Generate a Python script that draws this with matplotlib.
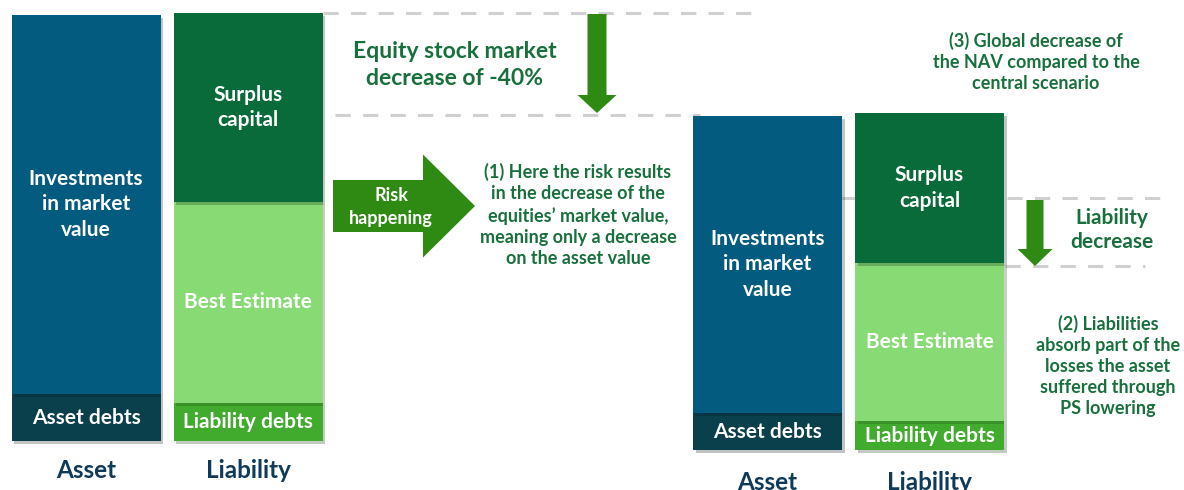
import matplotlib.pyplot as plt
from matplotlib import patheffects as pe

plt.rcParams['font.family'] = ['Lato', 'DejaVu Sans']

# balance sheet segments (central scenario, then stressed scenario)
scenarios = ['Central', 'Stressed']
base = [49, 40]
asset_debts = [47, 37]
investments = [379, 297]
liability_debts = [38, 29]
best_estimate = [201, 158]
surplus_capital = [189, 150]

# layout
asset_x = [86, 767.5]
liab_x = [248, 929.5]
bar_w = 149
label_y = [20, 8]

c_inv = '#045b80'
c_adebt = '#0a3f4c'
c_surplus = '#086b39'
c_be = '#88db74'
c_ldebt = '#40ab2c'
c_arrow = '#2e8a12'
c_text = '#18703c'
c_navy = '#0f3a5a'
c_dash = '#d0d0d0'

fig = plt.figure(figsize=(11.84, 4.9), dpi=100)
ax = fig.add_axes([0, 0, 1, 1])
ax.set_xlim(0, 1184)
ax.set_ylim(0, 490)
ax.axis('off')

shadow = [pe.SimplePatchShadow(offset=(2, -2), alpha=0.25), pe.Normal()]


def dashed(x0, x1, y):
    ax.plot([x0, x1], [y, y], color=c_dash, lw=2.2, dashes=(5, 4), zorder=1,
            solid_capstyle='butt')


# dashed reference lines (drawn under the bars)
dashed(323, 762, 477)
dashed(335, 700, 375)
dashed(842, 1160, 292)
dashed(1005, 1145, 224)

for i in range(len(scenarios)):
    b = base[i]
    segs_a = [(asset_debts[i], c_adebt, 'Asset debts'),
              (investments[i], c_inv, 'Investments\nin market\nvalue')]
    segs_l = [(liability_debts[i], c_ldebt, 'Liability debts'),
              (best_estimate[i], c_be, 'Best Estimate'),
              (surplus_capital[i], c_surplus, 'Surplus\ncapital')]
    for x, segs in [(asset_x[i], segs_a), (liab_x[i], segs_l)]:
        bottom = b
        for h, col, lab in segs:
            r = ax.bar(x, h, bottom=bottom, width=bar_w, color=col, zorder=2)
            r[0].set_path_effects(shadow)
            ax.text(x, bottom + h / 2, lab, color='white', fontsize=15,
                    fontweight='bold', ha='center', va='center',
                    linespacing=1.35, zorder=3)
            bottom += h
    ax.text(asset_x[i], label_y[i], 'Asset', color=c_navy, fontsize=17.5,
            fontweight='bold', ha='center', va='center')
    ax.text(liab_x[i], label_y[i], 'Liability', color=c_navy, fontsize=17.5,
            fontweight='bold', ha='center', va='center')

# arrows
ax.arrow(597, 476, 0, -99, width=19, head_width=39, head_length=18,
         length_includes_head=True, color=c_arrow, lw=0, zorder=3)
ax.arrow(333, 284, 142, 0, width=52, head_width=103, head_length=52,
         length_includes_head=True, color=c_arrow, lw=0, zorder=3)
ax.arrow(1035, 290, 0, -66, width=17, head_width=35, head_length=17,
         length_includes_head=True, color=c_arrow, lw=0, zorder=3)

ax.text(391, 283, 'Risk\nhappening', color='white', fontsize=13,
        fontweight='bold', ha='center', va='center', linespacing=1.38, zorder=4)

ax.text(455, 425, 'Equity stock market\ndecrease of -40%', color=c_text,
        fontsize=16.5, fontweight='bold', ha='center', va='center',
        linespacing=1.31)
ax.text(578, 275, '(1) Here the risk results\nin the decrease of the\n'
        'equities\u2019 market value,\nmeaning only a decrease\n'
        'on the asset value', color=c_text, fontsize=13, fontweight='bold',
        ha='center', va='center', linespacing=1.3)
ax.text(1036, 428, '(3) Global decrease of\nthe NAV compared to the\n'
        'central scenario', color=c_text, fontsize=13, fontweight='bold',
        ha='center', va='center', linespacing=1.3)
ax.text(1112, 260, 'Liability\ndecrease', color=c_text, fontsize=15,
        fontweight='bold', ha='center', va='center', linespacing=1.2)
ax.text(1108, 124, '(2) Liabilities\nabsorb part of the\nlosses the asset\n'
        'suffered through\nPS lowering', color=c_text, fontsize=13,
        fontweight='bold', ha='center', va='center', linespacing=1.3)

fig.savefig('out.png', dpi=100)
